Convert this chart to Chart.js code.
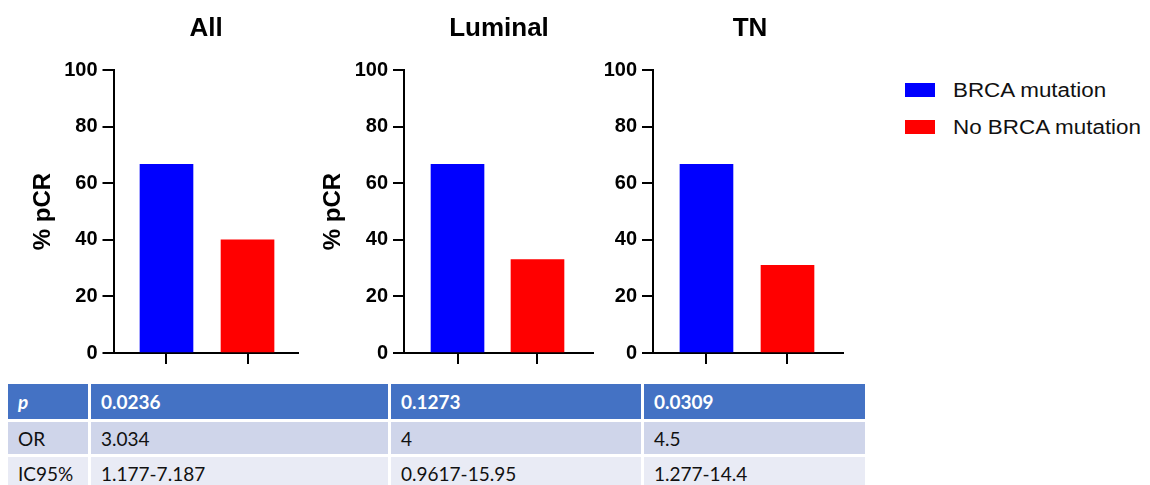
<!DOCTYPE html>
<html>
<head>
<meta charset="utf-8">
<script src="https://cdn.jsdelivr.net/npm/chart.js@4/dist/chart.umd.min.js"></script>
<style>
  html, body { margin: 0; padding: 0; background: #fff; }
  body { width: 1150px; height: 485px; position: relative; overflow: hidden; font-family: "Liberation Sans", Arial, sans-serif; }
  canvas { position: absolute; top: 0; }
  .ptitle { position: absolute; top: 10px; font: bold 26px "Liberation Sans", Arial, sans-serif; color: #000; transform: translateX(-50%); white-space: nowrap; line-height: 34px; }
  .leg { position: absolute; left: 905px; width: 30px; height: 14px; }
  .legtxt { position: absolute; left: 953px; font: 20px "Liberation Sans", Arial, sans-serif; color: #111; transform-origin: left center; transform: scaleX(1.12); white-space: nowrap; line-height: 24px; }
  .cell { position: absolute; box-sizing: border-box; padding-left: 10px; font-family: Lato, "Open Sans", sans-serif; font-size: 19px; display: flex; align-items: center; white-space: nowrap; }
</style>
</head>
<body>
<script>
// ---- data ----
const groups = ['All', 'Luminal', 'TN'];
const seriesNames = ['BRCA mutation', 'No BRCA mutation'];
const brcaPCR = [66.7, 66.7, 66.7];
const noBrcaPCR = [40, 33, 31];
const yTicks = [0, 20, 40, 60, 80, 100];
const yAxisTitle = '% pCR';
const tableRowLabels = ['p', 'OR', 'IC95%'];
const pValues = ['0.0236', '0.1273', '0.0309'];
const orValues = ['3.034', '4', '4.5'];
const ci95Values = ['1.177-7.187', '0.9617-15.95', '1.277-14.4'];

const seriesColors = ['#0000FF', '#FF0000'];

// ---- layout of the three panels ----
const frames = [
  { left: 0,   axisX: 113.5, right: 298, min: 0.346, max: 2.623, yTitle: true,  titleX: 206 },
  { left: 290, axisX: 404,   right: 593, min: 0.331, max: 2.694, yTitle: true,  titleX: 499 },
  { left: 540, axisX: 653,   right: 843, min: 0.340, max: 2.685, yTitle: false, titleX: 750 }
];
const H = 380, plotTop = 70, plotBottom = 353;

Chart.defaults.font.family = '"Liberation Sans", Arial, sans-serif';
Chart.defaults.color = '#000';

groups.forEach((g, i) => {
  const f = frames[i];
  const W = Math.ceil(f.right - f.left) + 1;
  const c = document.createElement('canvas');
  c.width = W; c.height = H;
  c.style.left = f.left + 'px';
  c.style.width = W + 'px'; c.style.height = H + 'px';
  document.body.appendChild(c);

  const t = document.createElement('div');
  t.className = 'ptitle';
  t.style.left = f.titleX + 'px';
  t.textContent = g;
  document.body.appendChild(t);

  new Chart(c.getContext('2d'), {
    type: 'bar',
    data: {
      datasets: [
        { label: seriesNames[0], data: [{ x: 1, y: brcaPCR[i] }], backgroundColor: seriesColors[0], borderWidth: 0 },
        { label: seriesNames[1], data: [{ x: 2, y: noBrcaPCR[i] }], backgroundColor: seriesColors[1], borderWidth: 0 }
      ]
    },
    options: {
      responsive: false,
      animation: false,
      devicePixelRatio: 1,
      grouped: false,
      barThickness: 53,
      layout: { padding: { top: plotTop, right: W - (f.right - f.left), bottom: 0, left: 0 } },
      plugins: { legend: { display: false }, tooltip: { enabled: false }, title: { display: false } },
      scales: {
        x: {
          type: 'linear',
          offset: false,
          bounds: 'data',
          min: f.min, max: f.max,
          afterBuildTicks: (s) => { s.ticks = [{ value: 1 }, { value: 2 }]; s.min = f.min; s.max = f.max; },
          afterFit: (s) => { s.height = H - plotBottom; },
          ticks: { display: false },
          grid: { drawOnChartArea: false, drawTicks: true, tickLength: 11, color: '#000', lineWidth: 2, offset: false },
          border: { display: true, color: '#000', width: 2 }
        },
        y: {
          min: 0, max: 100,
          afterBuildTicks: (s) => { s.ticks = yTicks.map(v => ({ value: v })); },
          afterFit: (s) => { s.width = f.axisX - f.left; },
          ticks: { font: { size: 20, weight: 'bold' }, color: '#000', padding: 5 },
          grid: { drawOnChartArea: false, drawTicks: true, tickLength: 11, color: '#000', lineWidth: 2 },
          border: { display: true, color: '#000', width: 2 },
          title: { display: f.yTitle, text: yAxisTitle, color: '#000', font: { size: 24, weight: 'bold' }, padding: { top: 28.6, bottom: 0 } }
        }
      }
    }
  });
});

// ---- legend ----
[[83, 78], [120, 115]].forEach((pos, k) => {
  const sw = document.createElement('div');
  sw.className = 'leg';
  sw.style.top = pos[0] + 'px';
  sw.style.background = seriesColors[k];
  document.body.appendChild(sw);
  const tx = document.createElement('div');
  tx.className = 'legtxt';
  tx.style.top = pos[1] + 'px';
  tx.textContent = seriesNames[k];
  document.body.appendChild(tx);
});

// ---- table ----
const cols = [[8, 88], [91, 388], [391, 641], [644, 865]];
const rows = [
  { top: 384, bottom: 419, bg: '#4472C4', color: '#fff', weight: 'bold', label: tableRowLabels[0], vals: pValues, italicLabel: true },
  { top: 422, bottom: 454, bg: '#CFD5EA', color: '#111', weight: 'normal', label: tableRowLabels[1], vals: orValues },
  { top: 457, bottom: 490, bg: '#E9EBF5', color: '#111', weight: 'normal', label: tableRowLabels[2], vals: ci95Values }
];
rows.forEach(r => {
  const texts = [r.label].concat(r.vals);
  cols.forEach((cx, j) => {
    const d = document.createElement('div');
    d.className = 'cell';
    d.style.left = cx[0] + 'px';
    d.style.width = (cx[1] - cx[0]) + 'px';
    d.style.top = r.top + 'px';
    d.style.height = (r.bottom - r.top) + 'px';
    d.style.background = r.bg;
    d.style.color = r.color;
    d.style.fontWeight = r.weight;
    if (j === 0 && r.italicLabel) d.style.fontStyle = 'italic';
    d.textContent = texts[j];
    document.body.appendChild(d);
  });
});
</script>
</body>
</html>
